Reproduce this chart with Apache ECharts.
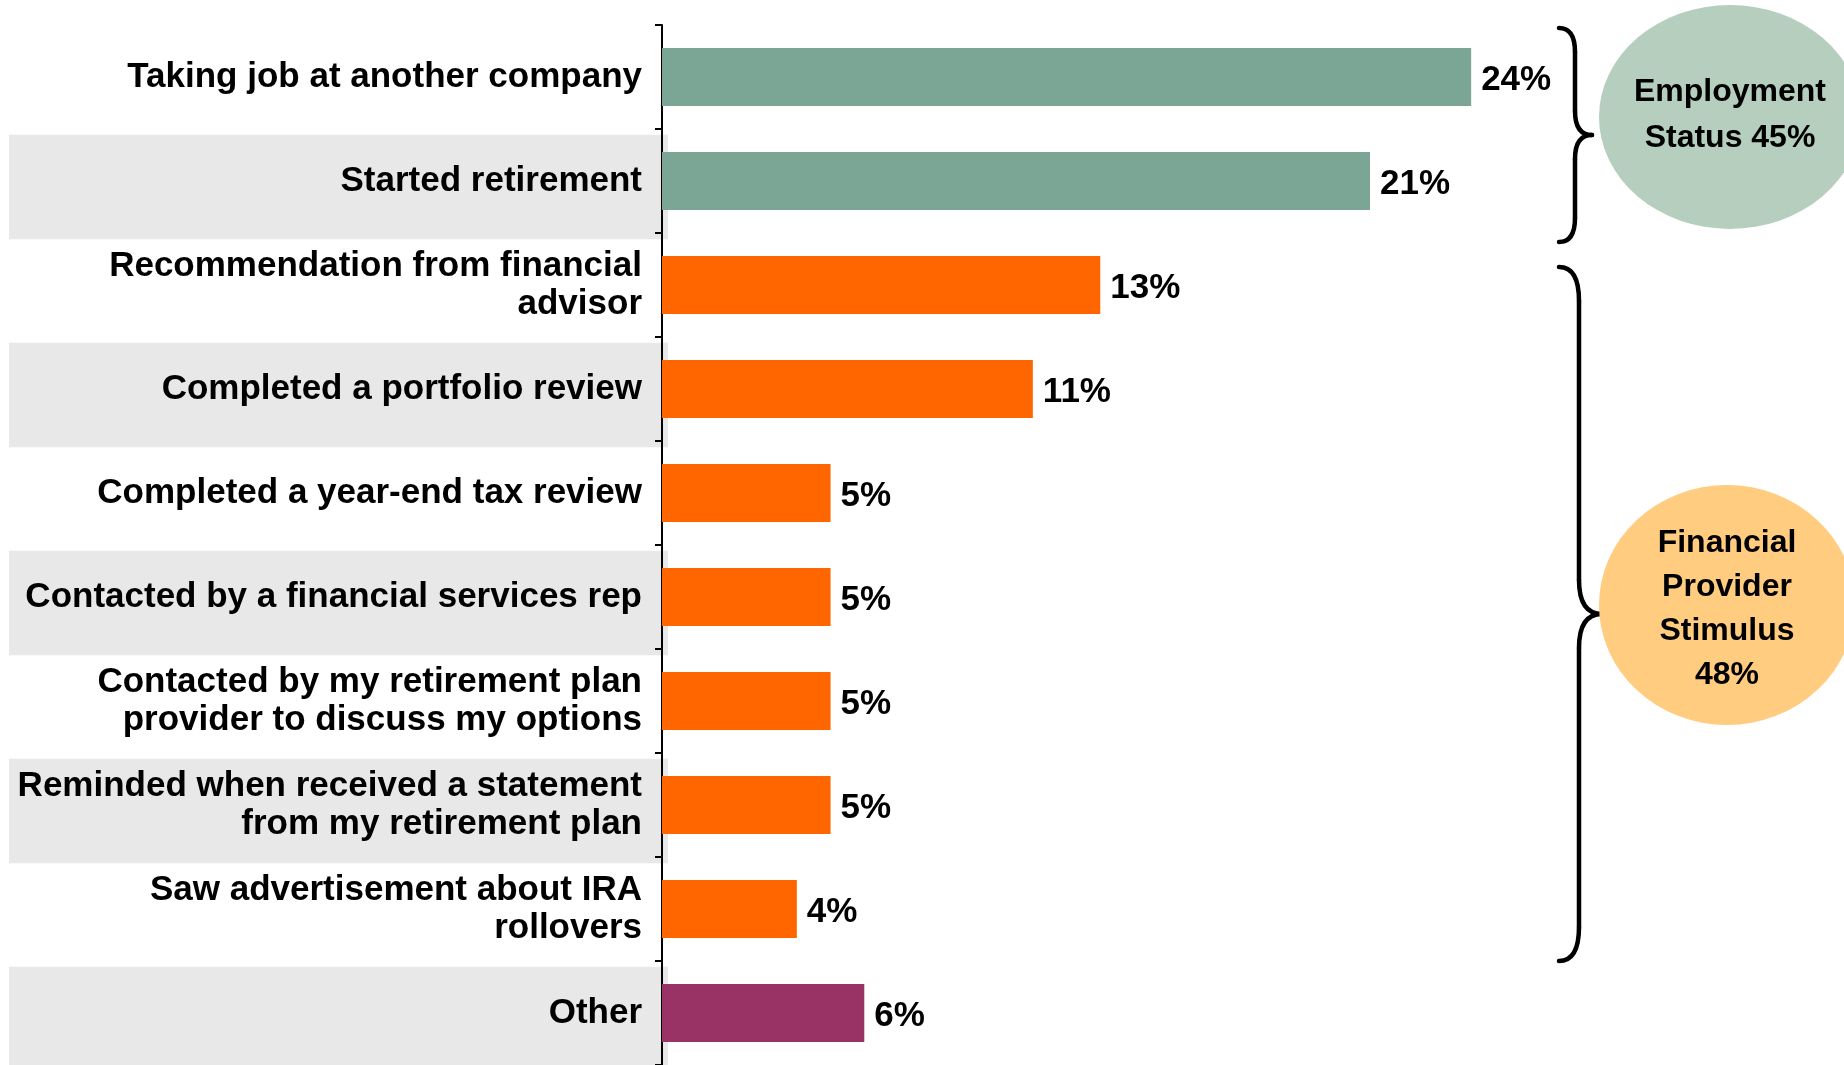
<!DOCTYPE html>
<html>
<head>
<meta charset="utf-8">
<title>Reasons for IRA rollover</title>
<script src="https://cdn.jsdelivr.net/npm/echarts@6/dist/echarts.min.js"></script>
<style>
  html, body { margin: 0; padding: 0; background: #ffffff; }
  #chart { width: 1844px; height: 1065px; }
</style>
</head>
<body>
<div id="chart"></div>
<script>
// Survey answers, top to bottom
const categories = [
  'Taking job at another company',
  'Started retirement',
  'Recommendation from financial\nadvisor',
  'Completed a portfolio review',
  'Completed a year-end tax review',
  'Contacted by a financial services rep',
  'Contacted by my retirement plan\nprovider to discuss my options',
  'Reminded when received a statement\nfrom my retirement plan',
  'Saw advertisement about IRA\nrollovers',
  'Other'
];
// Share of respondents, percent
const values = [24, 21, 13, 11, 5, 5, 5, 5, 4, 6];
// Which driver group each answer belongs to
const groups = ['employment', 'employment', 'provider', 'provider', 'provider',
                'provider', 'provider', 'provider', 'provider', 'other'];

const groupColors = { employment: '#7BA696', provider: '#FF6600', other: '#993366' };
const groupTitles = { employment: 'Employment\nStatus', provider: 'Financial\nProvider\nStimulus' };

const FONT = '"Liberation Sans", Arial, Helvetica, sans-serif';

const chart = echarts.init(document.getElementById('chart'), null, { renderer: 'canvas' });

chart.setOption({
  animation: false,
  backgroundColor: '#ffffff',
  grid: { left: 662, top: 25, width: 1180, height: 1045, containLabel: false },
  xAxis: {
    type: 'value', min: 0, max: 35, show: false,
    splitLine: { show: false }
  },
  yAxis: {
    type: 'category',
    data: categories,
    inverse: true,
    axisLine: { show: true, lineStyle: { color: '#000000', width: 2 } },
    axisTick: { show: true, length: 7, lineStyle: { color: '#000000', width: 2 } },
    axisLabel: {
      margin: 20,
      fontFamily: FONT, fontSize: 35, fontWeight: 'bold',
      color: '#000000', lineHeight: 38, align: 'right',
      padding: [10, 0, 0, 0]
    },
    z: 3
  },
  series: [{
    type: 'bar',
    barWidth: 58,
    data: values.map((v, i) => ({ value: v, itemStyle: { color: groupColors[groups[i]] } })),
    label: {
      show: true, position: 'right', distance: 10, offset: [0, 3],
      formatter: p => p.value + '%',
      fontFamily: FONT, fontSize: 35, fontWeight: 'bold', color: '#000000'
    },
    z: 4
  }]
});

// Decorations: alternating row shading, group braces and group badges
function decorate() {
  const n = categories.length;
  const band = 1045 / n;
  const cy = i => chart.convertToPixel({ yAxisIndex: 0 }, categories[i]);
  const elements = [];

  for (let i = 1; i < n; i += 2) {
    elements.push({
      type: 'rect', z: -10, silent: true,
      shape: { x: 9, y: cy(i) - band / 2 + 6, width: 659, height: band },
      style: { fill: '#E8E8E8' }
    });
  }

  const sumOf = g => values.reduce((s, v, i) => s + (groups[i] === g ? v : 0), 0);

  function brace(x0, xm, xt, y0, y1, r) {
    const ym = (y0 + y1) / 2;
    const st = { stroke: '#000000', lineWidth: 4.5, fill: 'none', lineCap: 'round' };
    return [
      { type: 'bezierCurve', shape: { x1: x0, y1: y0, x2: xm, y2: y0 + r, cpx1: xm, cpy1: y0 }, style: st },
      { type: 'line', shape: { x1: xm, y1: y0 + r, x2: xm, y2: ym - r }, style: st },
      { type: 'bezierCurve', shape: { x1: xm, y1: ym - r, x2: xt, y2: ym, cpx1: xm, cpy1: ym }, style: st },
      { type: 'bezierCurve', shape: { x1: xt, y1: ym, x2: xm, y2: ym + r, cpx1: xm, cpy1: ym }, style: st },
      { type: 'line', shape: { x1: xm, y1: ym + r, x2: xm, y2: y1 - r }, style: st },
      { type: 'bezierCurve', shape: { x1: xm, y1: y1 - r, x2: x0, y2: y1, cpx1: xm, cpy1: y1 }, style: st }
    ];
  }

  // Employment group: first two answers
  elements.push(...brace(1559, 1575, 1592, cy(0) - 49, cy(1) + 61, 24));
  // Financial provider group: answers three to nine
  elements.push(...brace(1559, 1579, 1602, cy(2) - 18, cy(8) + 52, 34));

  function badge(cx, cyy, rx, ry, fill, text, lh, dy) {
    elements.push({
      type: 'circle', silent: true,
      x: cx, y: cyy, scaleX: rx / ry,
      shape: { cx: 0, cy: 0, r: ry },
      style: { fill: fill }
    });
    elements.push({
      type: 'text', silent: true,
      x: cx, y: cyy + dy,
      style: {
        text: text, fill: '#000000',
        font: 'bold 32px ' + FONT, lineHeight: lh,
        align: 'center', verticalAlign: 'middle'
      }
    });
  }

  badge(1730, 117, 131, 112, '#B5CEBE',
        groupTitles.employment.replace('\nStatus', '\nStatus ' + sumOf('employment') + '%'), 46, -2);
  badge(1727, 605, 128, 120, '#FFCC80',
        groupTitles.provider + '\n' + sumOf('provider') + '%', 44, 4);

  chart.setOption({ graphic: { elements: elements } });
}

decorate();
</script>
</body>
</html>
